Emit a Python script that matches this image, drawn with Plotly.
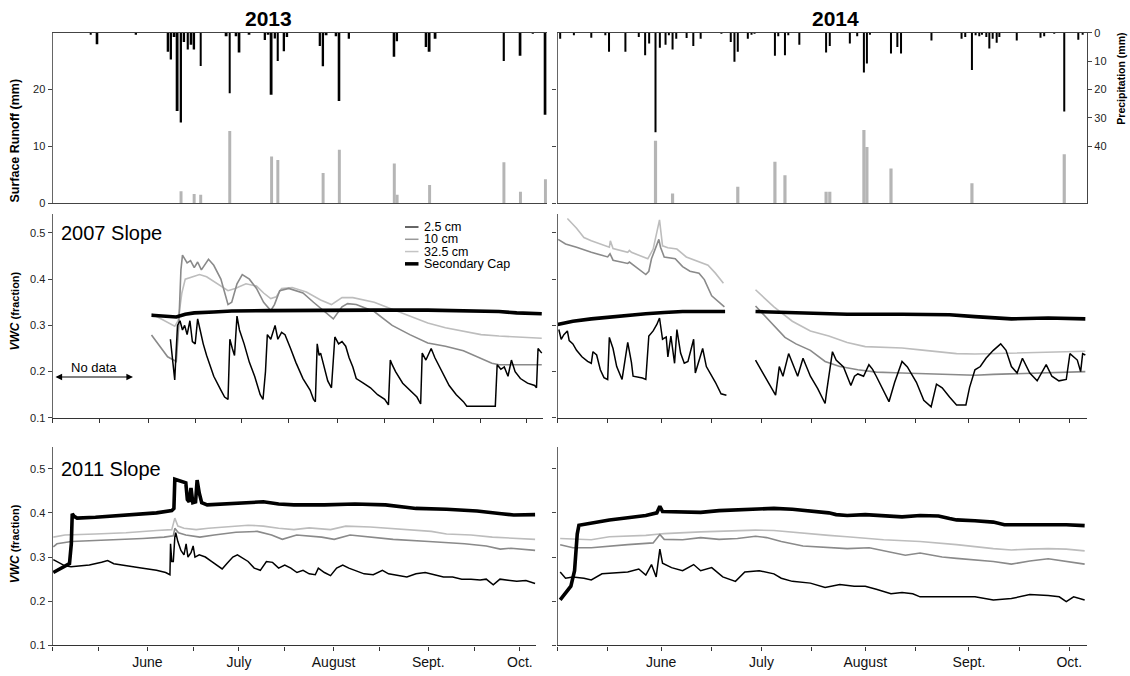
import plotly.graph_objects as go

W, H = 1130, 676

# ---------------- shared time axis (day of year, May 1 = 121) ----------------
TICK_DOY = [121, 136, 152, 167, 182, 197, 213, 228, 244, 259, 274]
TICK_TEXT = ["", "", "June", "", "July", "", "August", "", "Sept.", "", "Oct."]
X_RANGE = [121, 279.3]

# ---------------- precipitation (mm, daily) and surface runoff (mm) ----------------
precip13_doy = [133.2, 135.3, 147.7, 158.0, 158.9, 160.0, 161.0, 162.1, 163.1, 164.3,
                165.4, 166.3, 168.4, 176.7, 177.7, 179.8, 180.8, 184.0, 189.0, 190.1,
                191.1, 192.2, 193.1, 195.1, 196.1, 206.6, 207.6, 208.7, 211.8, 212.8,
                215.9, 230.4, 231.3, 240.6, 241.7, 243.6, 265.5, 270.8, 274.8, 278.8]
precip13_mm = [0.7, 4.0, 0.5, 6.7, 9.4, 1.5, 27.5, 31.6, 3.2, 5.9,
               4.2, 5.9, 11.7, 1.2, 21.3, 1.2, 6.9, 0.5, 2.5, 0.7,
               21.8, 2.0, 9.9, 6.5, 1.5, 4.6, 11.8, 0.9, 1.2, 24.0,
               2.1, 8.4, 3.0, 5.0, 6.7, 2.1, 9.9, 8.1, 0.3, 28.9]
runoff13_doy = [162.1, 166.3, 168.4, 177.7, 191.1, 193.1, 207.6, 212.8, 230.4, 231.3,
                241.7, 265.5, 270.8, 278.8]
runoff13_mm = [2.1, 1.6, 1.5, 12.7, 8.2, 7.6, 5.3, 9.4, 7.0, 1.5, 3.2, 7.2, 2.0, 4.2]

precip14_doy = [121.8, 125.9, 131.1, 135.3, 136.4, 141.3, 145.3, 147.2, 148.4, 150.3,
                151.6, 153.3, 154.3, 155.4, 156.5, 159.6, 161.6, 163.8, 170.0, 172.8,
                173.9, 174.9, 177.9, 179.0, 179.9, 186.0, 187.0, 189.0, 190.0, 193.3,
                201.3, 202.4, 208.4, 210.6, 212.6, 213.5, 214.4, 220.7, 222.6, 223.7,
                232.8, 241.8, 242.9, 244.9, 246.0, 247.1, 247.9, 249.2, 250.1, 251.1,
                252.3, 253.1, 258.3, 265.4, 266.5, 269.5, 272.5, 276.7, 278.0]
precip14_mm = [2.1, 0.9, 1.7, 0.9, 6.7, 6.7, 1.5, 7.9, 3.8, 35.0,
               5.3, 4.2, 0.9, 5.9, 2.1, 1.8, 4.6, 2.1, 0.3, 3.2,
               10.2, 6.7, 2.1, 0.5, 0.3, 8.1, 1.2, 7.9, 0.9, 4.2,
               6.9, 4.6, 3.8, 1.2, 14.0, 10.8, 0.5, 7.3, 5.0, 7.3,
               2.7, 2.1, 1.5, 13.1, 0.9, 1.2, 0.7, 1.5, 5.5, 2.1,
               3.5, 1.5, 2.7, 1.7, 1.2, 0.3, 27.7, 2.4, 0.7]
runoff14_doy = [150.3, 155.4, 174.9, 186.0, 189.0, 201.3, 202.4, 212.6, 213.5, 220.7,
                244.9, 272.5]
runoff14_mm = [11.0, 1.7, 2.9, 7.3, 4.9, 2.0, 2.0, 12.9, 9.9, 6.1, 3.5, 8.6]

# ---------------- 2007 slope VWC, 2013 ----------------
s07_13_d25_doy = [159.0, 159.7, 160.4, 160.9, 161.3, 162.1, 162.9, 163.6, 164.4, 165.3,
                  166.1, 167.0, 167.8, 168.6, 169.6, 170.7, 173.0, 175.3, 176.5, 177.6,
                  178.2, 179.0, 179.7, 180.5, 181.3, 182.8, 184.5, 186.2, 188.0, 188.9,
                  189.7, 190.3, 191.4, 192.8, 193.7, 194.9, 196.0, 197.8, 199.5, 201.8,
                  204.1, 205.2, 205.8, 206.4, 207.0, 207.5, 208.7, 209.8, 211.0, 212.1,
                  213.3, 214.4, 215.6, 216.7, 217.9, 219.0, 221.3, 223.6, 225.9, 228.2,
                  229.4, 230.0, 230.6, 231.7, 234.0, 236.3, 238.6, 239.8, 240.3, 241.5,
                  243.2, 244.4, 246.7, 249.0, 251.3, 253.6, 254.7, 263.9, 264.5, 265.7,
                  266.8, 268.0, 269.1, 270.3, 272.0, 274.3, 276.6, 277.2, 277.7, 278.9]
s07_13_d25 = [0.270, 0.220, 0.182, 0.250, 0.300, 0.310, 0.290, 0.300, 0.280, 0.310,
              0.265, 0.260, 0.314, 0.290, 0.260, 0.235, 0.190, 0.160, 0.145, 0.140,
              0.270, 0.250, 0.235, 0.320, 0.290, 0.260, 0.220, 0.190, 0.150, 0.140,
              0.200, 0.280, 0.270, 0.300, 0.270, 0.285, 0.280, 0.250, 0.220, 0.185,
              0.160, 0.140, 0.135, 0.260, 0.235, 0.240, 0.210, 0.180, 0.165, 0.275,
              0.260, 0.265, 0.255, 0.230, 0.210, 0.185, 0.175, 0.165, 0.150, 0.140,
              0.128, 0.225, 0.215, 0.200, 0.175, 0.160, 0.145, 0.130, 0.240, 0.225,
              0.250, 0.230, 0.200, 0.170, 0.150, 0.135, 0.125, 0.125, 0.215, 0.205,
              0.210, 0.190, 0.225, 0.200, 0.185, 0.175, 0.170, 0.165, 0.250, 0.240]
s07_13_d10_doy = [152.9, 155.2, 158.1, 160.9, 161.7, 162.4, 162.9, 164.4, 165.5, 166.7,
                  167.8, 169.0, 171.3, 173.0, 175.3, 177.6, 178.8, 180.5, 182.2, 184.5,
                  186.8, 189.1, 191.4, 192.6, 194.3, 197.2, 201.8, 205.2, 208.7, 211.6,
                  214.4, 216.2, 219.0, 224.8, 230.6, 236.3, 242.1, 247.8, 253.6, 258.2,
                  262.8, 265.1, 278.9]
s07_13_d10 = [0.279, 0.258, 0.232, 0.222, 0.300, 0.420, 0.452, 0.435, 0.440, 0.425,
              0.437, 0.420, 0.443, 0.430, 0.400, 0.345, 0.350, 0.390, 0.410, 0.400,
              0.380, 0.350, 0.332, 0.345, 0.375, 0.380, 0.370, 0.350, 0.330, 0.314,
              0.340, 0.347, 0.345, 0.330, 0.300, 0.280, 0.262, 0.255, 0.245, 0.232,
              0.218, 0.215, 0.215]
s07_13_d325_doy = [152.9, 156.9, 160.4, 161.5, 162.7, 163.8, 166.1, 168.4, 170.7, 173.0,
                   175.3, 177.6, 179.9, 183.4, 186.8, 189.1, 191.4, 193.2, 194.9, 198.3,
                   202.9, 207.5, 211.0, 214.4, 217.9, 224.8, 230.6, 236.3, 242.1, 247.8,
                   253.6, 259.3, 265.1, 272.0, 278.9]
s07_13_d325 = [0.325, 0.310, 0.298, 0.310, 0.370, 0.400, 0.405, 0.410, 0.405, 0.395,
               0.385, 0.375, 0.380, 0.390, 0.385, 0.370, 0.358, 0.362, 0.380, 0.382,
               0.372, 0.355, 0.345, 0.360, 0.360, 0.350, 0.335, 0.320, 0.305, 0.295,
               0.287, 0.280, 0.277, 0.275, 0.272]
s07_13_cap_doy = [152.9, 156.9, 160.9, 163.8, 166.7, 173.0, 178.8, 190.3, 207.5, 224.8,
                  242.1, 253.6, 265.1, 270.8, 278.9]
s07_13_cap = [0.322, 0.320, 0.318, 0.324, 0.327, 0.329, 0.331, 0.332, 0.333, 0.333,
              0.333, 0.332, 0.330, 0.327, 0.325]

# ---------------- 2007 slope VWC, 2014 (None = logger gap) ----------------
s07_14_d25_doy = [121.4, 122.1, 122.9, 123.95, 124.5, 125.6, 126.7, 128.3, 130.0, 131.1,
                  131.6, 132.7, 133.8, 134.9, 136.0, 136.5, 137.6, 138.7, 140.3, 142.0,
                  143.1, 143.6, 146.4, 147.4, 148.3, 149.6, 150.7, 151.5, 152.4, 153.5,
                  154.0, 154.9, 156.0, 156.7, 157.8, 158.9, 160.0, 161.7, 162.2, 163.3,
                  164.4, 165.5, 166.6, 168.2, 169.9, 171.5, 175.0,
                  180.2, 182.4, 184.6, 186.2, 187.3, 188.4, 190.1, 191.7, 192.8, 194.4,
                  196.6, 198.8, 201.0, 201.5, 203.2, 204.3, 206.5, 208.7, 209.8, 210.8,
                  212.5, 214.1, 215.2, 216.3, 218.5, 220.1, 221.8, 224.0, 225.6, 228.3,
                  230.5, 232.7, 234.3, 236.0, 238.2, 240.3, 243.1, 244.2, 245.8, 247.4,
                  249.1, 251.3, 253.5, 255.1, 256.7, 258.4, 260.0, 262.2, 264.4, 267.1,
                  268.8, 270.9, 273.1, 274.2, 276.4, 277.4, 278.0, 278.8]
s07_14_d25 = [0.291, 0.270, 0.280, 0.288, 0.267, 0.260, 0.246, 0.232, 0.222, 0.218,
              0.243, 0.236, 0.204, 0.187, 0.183, 0.274, 0.250, 0.211, 0.183, 0.263,
              0.220, 0.190, 0.186, 0.183, 0.277, 0.288, 0.302, 0.316, 0.270, 0.275,
              0.232, 0.277, 0.218, 0.291, 0.240, 0.218, 0.222, 0.270, 0.197, 0.222,
              0.250, 0.211, 0.197, 0.177, 0.152, 0.149, None,
              0.225, 0.197, 0.170, 0.149, 0.211, 0.190, 0.239, 0.211, 0.190, 0.229,
              0.190, 0.163, 0.131, 0.159, 0.243, 0.225, 0.210, 0.170, 0.190, 0.195,
              0.190, 0.215, 0.205, 0.190, 0.159, 0.135, 0.177, 0.222, 0.210, 0.177,
              0.138, 0.124, 0.173, 0.165, 0.145, 0.128, 0.128, 0.166, 0.204, 0.211,
              0.229, 0.246, 0.260, 0.246, 0.211, 0.197, 0.229, 0.197, 0.180, 0.215,
              0.190, 0.180, 0.183, 0.239, 0.225, 0.200, 0.239, 0.236]
s07_14_d10_doy = [121.2, 123.4, 126.7, 131.1, 136.0, 136.7, 137.6, 142.0, 142.5, 147.4,
                  148.3, 149.1, 151.3, 151.8, 152.9, 156.2, 158.4, 160.6, 163.3, 164.9,
                  167.1, 170.9, 175.0,
                  180.2, 183.5, 185.7, 189.0, 192.3, 196.6, 201.0, 205.4, 210.8, 216.3,
                  224.0, 234.9, 240.3, 245.8, 251.3, 262.2, 273.1, 278.8]
s07_14_d10 = [0.486, 0.476, 0.469, 0.458, 0.448, 0.455, 0.441, 0.434, 0.437, 0.410,
              0.417, 0.444, 0.486, 0.469, 0.448, 0.444, 0.427, 0.417, 0.413, 0.399,
              0.364, 0.340, None,
              0.342, 0.316, 0.298, 0.274, 0.260, 0.246, 0.222, 0.211, 0.204, 0.199,
              0.197, 0.195, 0.193, 0.192, 0.194, 0.197, 0.200, 0.200]
s07_14_d325_doy = [123.95, 126.7, 128.9, 131.1, 136.5, 136.8, 137.6, 142.0, 142.5, 143.1,
                   148.0, 149.6, 151.5, 152.4, 154.0, 156.7, 159.5, 163.8, 166.0, 168.2,
                   170.6, 175.0,
                   180.2, 185.7, 191.2, 196.6, 202.1, 207.6, 213.0, 218.5, 224.0, 229.4,
                   234.9, 240.3, 245.8, 251.3, 262.2, 273.1, 278.8]
s07_14_d325 = [0.531, 0.510, 0.490, 0.483, 0.469, 0.483, 0.466, 0.458, 0.462, 0.458,
               0.444, 0.465, 0.528, 0.472, 0.468, 0.465, 0.448, 0.437, 0.430, 0.413,
               0.391, None,
               0.377, 0.340, 0.309, 0.288, 0.277, 0.263, 0.254, 0.253, 0.251, 0.247,
               0.243, 0.239, 0.238, 0.239, 0.241, 0.243, 0.244]
s07_14_cap_doy = [121.0, 125.6, 131.1, 136.5, 142.0, 147.4, 152.9, 158.4, 171.1, 175.0,
                  180.2, 191.2, 207.6, 224.0, 238.2, 245.8, 256.7, 267.7, 278.8]
s07_14_cap = [0.302, 0.309, 0.314, 0.318, 0.321, 0.325, 0.328, 0.330, 0.330, None,
              0.330, 0.327, 0.324, 0.324, 0.323, 0.319, 0.314, 0.316, 0.314]

# ---------------- 2011 slope VWC, 2013 ----------------
s11_13_d25_doy = [121.2, 123.0, 125.0, 127.0, 130.0, 133.0, 137.0, 139.0, 141.0, 145.0,
                  150.0, 155.0, 158.0, 159.4, 159.6, 160.0, 160.5, 161.0, 161.3, 162.0,
                  163.0, 164.0, 164.7, 165.3, 166.3, 167.0, 167.6, 169.0, 171.0, 173.0,
                  175.0, 176.5, 178.0, 180.0, 181.5, 183.0, 185.0, 187.0, 189.0, 191.0,
                  193.0, 195.0, 197.0, 199.0, 201.0, 203.0, 205.0, 207.0, 208.0, 210.0,
                  212.0, 214.0, 216.0, 218.0, 220.0, 223.0, 226.0, 229.0, 231.0, 234.0,
                  237.0, 240.0, 243.0, 246.0, 249.0, 252.0, 255.0, 258.0, 261.0, 263.0,
                  265.3, 267.5, 270.0, 273.0, 276.0, 279.0]
s11_13_d25 = [0.294, 0.288, 0.280, 0.278, 0.280, 0.282, 0.288, 0.292, 0.285, 0.280,
              0.275, 0.270, 0.265, 0.260, 0.330, 0.290, 0.290, 0.345, 0.355, 0.335,
              0.315, 0.305, 0.330, 0.300, 0.310, 0.325, 0.300, 0.305, 0.300, 0.290,
              0.280, 0.273, 0.285, 0.300, 0.305, 0.298, 0.290, 0.275, 0.270, 0.290,
              0.288, 0.275, 0.282, 0.275, 0.265, 0.270, 0.262, 0.260, 0.275, 0.265,
              0.258, 0.275, 0.282, 0.275, 0.270, 0.262, 0.260, 0.270, 0.262, 0.258,
              0.255, 0.262, 0.265, 0.260, 0.255, 0.255, 0.250, 0.250, 0.248, 0.250,
              0.237, 0.250, 0.247, 0.245, 0.247, 0.240]
s11_13_d10_doy = [121.2, 122.4, 127.1, 138.8, 150.5, 157.5, 160.5, 161.0, 162.2, 164.6,
                  169.2, 173.9, 181.0, 188.0, 192.7, 196.2, 200.9, 209.1, 213.2, 218.4,
                  226.6, 232.5, 244.2, 255.9, 263.0, 267.6, 271.1, 279.0]
s11_13_d10 = [0.323, 0.330, 0.335, 0.338, 0.342, 0.345, 0.348, 0.365, 0.355, 0.350,
              0.345, 0.350, 0.356, 0.358, 0.350, 0.340, 0.350, 0.345, 0.340, 0.350,
              0.345, 0.340, 0.335, 0.330, 0.325, 0.318, 0.320, 0.315]
s11_13_d325_doy = [121.2, 125.0, 135.0, 145.0, 155.0, 160.0, 161.0, 162.0, 164.0, 168.0,
                   172.0, 178.0, 185.0, 190.0, 195.0, 200.0, 205.0, 212.0, 217.0, 225.0,
                   232.0, 240.0, 245.0, 250.0, 258.0, 265.0, 272.0, 279.0]
s11_13_d325 = [0.345, 0.350, 0.352, 0.355, 0.360, 0.362, 0.388, 0.370, 0.365, 0.362,
               0.365, 0.368, 0.372, 0.370, 0.365, 0.362, 0.366, 0.362, 0.370, 0.368,
               0.365, 0.360, 0.358, 0.352, 0.350, 0.345, 0.342, 0.340]
s11_13_cap_doy = [121.2, 126.5, 127.1, 127.4, 128.0, 129.0, 135.0, 145.0, 155.0, 160.0,
                  160.7, 161.0, 164.6, 165.1, 165.7, 166.3, 166.9, 167.8, 168.3, 169.0,
                  169.8, 171.6, 177.0, 185.0, 190.0, 195.0, 200.0, 210.0, 220.0, 230.0,
                  240.0, 250.0, 260.0, 268.0, 272.0, 279.0]
s11_13_cap = [0.265, 0.285, 0.330, 0.398, 0.392, 0.388, 0.390, 0.395, 0.400, 0.405,
              0.410, 0.476, 0.468, 0.430, 0.425, 0.456, 0.423, 0.425, 0.474, 0.445,
              0.423, 0.418, 0.420, 0.423, 0.425, 0.420, 0.418, 0.418, 0.420, 0.418,
              0.410, 0.408, 0.404, 0.398, 0.395, 0.396]

# ---------------- 2011 slope VWC, 2014 ----------------
s11_14_d25_doy = [121.8, 123.4, 125.6, 128.9, 131.1, 134.3, 142.0, 145.3, 147.4, 149.1,
                  150.5, 151.6, 152.4, 155.1, 158.4, 161.7, 163.8, 167.1, 170.4, 174.2,
                  177.0, 181.3, 185.7, 187.9, 191.2, 196.6, 201.0, 205.4, 209.7, 213.0,
                  216.3, 220.7, 224.0, 227.2, 229.4, 234.9, 240.3, 245.8, 251.3, 256.7,
                  262.2, 267.7, 271.0, 273.1, 275.3, 278.6]
s11_14_d25 = [0.266, 0.252, 0.255, 0.252, 0.248, 0.262, 0.266, 0.273, 0.259, 0.283,
              0.255, 0.318, 0.286, 0.276, 0.269, 0.283, 0.269, 0.276, 0.255, 0.245,
              0.266, 0.269, 0.262, 0.252, 0.245, 0.241, 0.231, 0.238, 0.234, 0.234,
              0.227, 0.217, 0.220, 0.217, 0.210, 0.210, 0.210, 0.210, 0.203, 0.206,
              0.215, 0.213, 0.210, 0.199, 0.210, 0.203]
s11_14_d10_doy = [121.8, 125.6, 131.1, 136.5, 142.0, 149.6, 151.6, 152.9, 158.4, 163.8,
                  169.3, 174.8, 180.2, 183.5, 187.9, 194.4, 202.1, 207.6, 214.2, 218.5,
                  225.0, 229.4, 236.0, 240.3, 245.8, 251.3, 256.7, 262.2, 267.7, 273.1,
                  278.6]
s11_14_d10 = [0.328, 0.321, 0.321, 0.325, 0.328, 0.332, 0.351, 0.340, 0.339, 0.344,
              0.340, 0.342, 0.347, 0.344, 0.335, 0.325, 0.321, 0.319, 0.321, 0.314,
              0.304, 0.309, 0.300, 0.297, 0.293, 0.290, 0.284, 0.291, 0.296, 0.290,
              0.284]
s11_14_d325_doy = [121.8, 131.1, 136.5, 147.4, 151.6, 152.9, 163.8, 174.8, 180.2, 185.7,
                   191.2, 196.6, 202.1, 207.6, 213.0, 218.5, 229.4, 240.3, 251.3, 256.7,
                   262.2, 267.7, 273.1, 278.6]
s11_14_d325 = [0.342, 0.339, 0.346, 0.349, 0.352, 0.353, 0.357, 0.359, 0.361, 0.360,
               0.356, 0.353, 0.349, 0.346, 0.342, 0.339, 0.335, 0.328, 0.319, 0.316,
               0.318, 0.319, 0.318, 0.314]
s11_14_cap_doy = [121.8, 123.4, 125.0, 126.1, 126.9, 127.4, 131.1, 136.5, 142.0, 147.4,
                  150.7, 151.6, 152.4, 158.4, 163.8, 169.3, 174.8, 180.2, 185.7, 191.2,
                  196.6, 202.1, 204.3, 207.6, 213.0, 218.5, 224.0, 229.4, 234.9, 238.2,
                  240.3, 245.8, 251.3, 254.6, 262.2, 267.7, 273.1, 278.6]
s11_14_cap = [0.203, 0.217, 0.234, 0.269, 0.352, 0.372, 0.377, 0.384, 0.389, 0.394,
              0.400, 0.415, 0.403, 0.401, 0.401, 0.405, 0.407, 0.410, 0.410, 0.408,
              0.405, 0.400, 0.396, 0.394, 0.396, 0.393, 0.391, 0.394, 0.393, 0.387,
              0.384, 0.382, 0.379, 0.373, 0.373, 0.375, 0.373, 0.371]

SERIES_NAMES = ["2.5 cm", "10 cm", "32.5 cm", "Secondary Cap"]
SERIES_COLORS = ["#000000", "#8a8a8a", "#bdbdbd", "#000000"]
SERIES_WIDTHS = [1.5, 1.6, 1.6, 3.6]

FONT = "Liberation Sans, Arial, Helvetica, sans-serif"


def fx(p):
    return p / W


def fy(p):
    return 1 - p / H


# panel geometry (pixel edges)
COL13_TOP = (52.7, 547.0)
COL13_MID = (52.7, 543.0)
COL13_BOT = (52.7, 536.0)
COL14 = (557.5, 1087.0)
ROW_TOP = (27.3, 200.7)
ROW_MID = (211.7, 419.3)
ROW_BOT = (449.4, 651.0)

fig = go.Figure()

# ---- top row: runoff bars (up) and precipitation bars (down) ----
fig.add_trace(go.Bar(x=runoff13_doy, y=runoff13_mm, width=0.95, marker=dict(color="#b5b5b5", line=dict(width=0)),
                     xaxis="x", yaxis="y", showlegend=False))
fig.add_trace(go.Bar(x=precip13_doy, y=precip13_mm, width=0.6, marker=dict(color="#000000", line=dict(width=0)),
                     xaxis="x", yaxis="y2", showlegend=False))
fig.add_trace(go.Bar(x=runoff14_doy, y=runoff14_mm, width=0.95, marker=dict(color="#b5b5b5", line=dict(width=0)),
                     xaxis="x2", yaxis="y3", showlegend=False))
fig.add_trace(go.Bar(x=precip14_doy, y=precip14_mm, width=0.6, marker=dict(color="#000000", line=dict(width=0)),
                     xaxis="x2", yaxis="y4", showlegend=False))


def add_vwc(xa, ya, groups):
    # deeper sensors first so the shallow and cap lines sit on top
    for i in [2, 1, 0, 3]:
        xs, ys = groups[i]
        fig.add_trace(go.Scatter(x=xs, y=ys, mode="lines", name=SERIES_NAMES[i],
                                 line=dict(color=SERIES_COLORS[i], width=SERIES_WIDTHS[i]),
                                 connectgaps=False, xaxis=xa, yaxis=ya, showlegend=False))


add_vwc("x3", "y5", [(s07_13_d25_doy, s07_13_d25), (s07_13_d10_doy, s07_13_d10),
                     (s07_13_d325_doy, s07_13_d325), (s07_13_cap_doy, s07_13_cap)])
add_vwc("x4", "y6", [(s07_14_d25_doy, s07_14_d25), (s07_14_d10_doy, s07_14_d10),
                     (s07_14_d325_doy, s07_14_d325), (s07_14_cap_doy, s07_14_cap)])
add_vwc("x5", "y7", [(s11_13_d25_doy, s11_13_d25), (s11_13_d10_doy, s11_13_d10),
                     (s11_13_d325_doy, s11_13_d325), (s11_13_cap_doy, s11_13_cap)])
add_vwc("x6", "y8", [(s11_14_d25_doy, s11_14_d25), (s11_14_d10_doy, s11_14_d10),
                     (s11_14_d325_doy, s11_14_d325), (s11_14_cap_doy, s11_14_cap)])

tickfont = dict(family=FONT, size=11, color="#222")
monthfont = dict(family=FONT, size=14, color="#111")


def xax(col, anchor, labels=False, ticks=True, mirror=False, linecolor="#333"):
    return dict(domain=[fx(col[0]), fx(col[1])], range=X_RANGE, anchor=anchor, showgrid=False,
                zeroline=False, showline=True, linecolor=linecolor, linewidth=1.2, mirror=mirror,
                tickmode="array", tickvals=TICK_DOY,
                ticktext=TICK_TEXT if labels else [""] * len(TICK_DOY),
                ticks="outside" if ticks else "", ticklen=4, tickcolor="#333", tickfont=monthfont,
                fixedrange=True)


def yax(row, rng, tickvals, anchor, labels=True, fmt=None):
    d = dict(domain=[fy(row[1]), fy(row[0])], range=rng, anchor=anchor, showgrid=False,
             zeroline=False, showline=True, linecolor="#666", linewidth=1.3, ticks="outside",
             ticklen=4, tickcolor="#444", tickmode="array", tickvals=tickvals,
             showticklabels=labels, tickfont=tickfont, fixedrange=True)
    if fmt:
        d["tickformat"] = fmt
    return d


VWC_TICKS = [0.1, 0.2, 0.3, 0.4, 0.5]

layout = dict(
    width=W, height=H, margin=dict(l=0, r=0, t=0, b=0),
    paper_bgcolor="white", plot_bgcolor="white", barmode="overlay", showlegend=False,
    font=dict(family=FONT, color="#111"),
    xaxis=xax(COL13_TOP, "y", ticks=False, mirror=True, linecolor="#444"),
    xaxis2=xax(COL14, "y3", ticks=False, mirror=True, linecolor="#444"),
    xaxis3=xax(COL13_MID, "y5"),
    xaxis4=xax(COL14, "y6"),
    xaxis5=xax(COL13_BOT, "y7", labels=True),
    xaxis6=xax(COL14, "y8", labels=True),
    yaxis=yax(ROW_TOP, [0, 30], [0, 10, 20], "x"),
    yaxis3=yax(ROW_TOP, [0, 30], [0, 10, 20], "x2", labels=False),
    yaxis5=yax(ROW_MID, [0.1, 0.541], VWC_TICKS, "x3", fmt=".1f"),
    yaxis6=yax(ROW_MID, [0.1, 0.541], VWC_TICKS, "x4", labels=False),
    yaxis7=yax(ROW_BOT, [0.1, 0.548], VWC_TICKS, "x5", fmt=".1f"),
    yaxis8=yax(ROW_BOT, [0.1, 0.548], VWC_TICKS, "x6", labels=False),
)
# precipitation axes hang from the top of each upper panel
layout["yaxis2"] = dict(overlaying="y", anchor="x", side="right", range=[60, 0], visible=False,
                        showgrid=False, zeroline=False, fixedrange=True)
layout["yaxis4"] = dict(overlaying="y3", anchor="x2", side="right", range=[60, 0], showgrid=False,
                        zeroline=False, showline=True, linecolor="#444", linewidth=1.2,
                        ticks="outside", ticklen=4, tickcolor="#444", tickmode="array",
                        tickvals=[0, 10, 20, 30, 40], tickfont=tickfont, fixedrange=True)
fig.update_layout(**layout)


def label(text, x, y, size, angle=0, xanchor="center"):
    return dict(text=text, x=fx(x), y=fy(y), xref="paper", yref="paper", xanchor=xanchor,
                yanchor="middle", showarrow=False, textangle=angle,
                font=dict(family=FONT, size=size, color="#000"))


ann = [
    label("<b>2013</b>", 268, 13, 21),
    label("<b>2014</b>", 835, 13, 21),
    label("<b>Surface Runoff (mm)</b>", 15, 137, 12.5, angle=-90),
    label("<b>Precipitation (mm)</b>", 1121, 74, 10.5, angle=-90),
    label("2007 Slope", 59, 231, 20, xanchor="left"),
    label("2011 Slope", 59, 471, 20, xanchor="left"),
    label("No data", 94, 368, 13),
]
vwc_title = "<b><i>VWC</i></b><b><span style='font-size:11px'> (fraction)</span></b>"
ann.append(label(vwc_title, 15, 311, 12, angle=-90))
ann.append(label(vwc_title, 15, 548, 12, angle=-90))
ann.append(dict(text="", x=fx(133), y=fy(377.7), xref="paper", yref="paper", ax=-79, ay=0,
                axref="pixel", ayref="pixel", showarrow=True, arrowhead=2, arrowside="end+start",
                arrowsize=1.1, arrowwidth=1.2, arrowcolor="#000", standoff=0, startstandoff=0))

# legend: short line samples with labels
leg_rows = [225.0, 237.5, 250.0, 262.5]
leg_cols = ["#333333", "#999999", "#c4c4c4", "#000000"]
leg_w = [1.5, 1.5, 1.5, 3.5]
shapes = []
for i, yy in enumerate(leg_rows):
    shapes.append(dict(type="line", xref="paper", yref="paper", x0=fx(405), x1=fx(418.5),
                       y0=fy(yy), y1=fy(yy), line=dict(color=leg_cols[i], width=leg_w[i])))
    ann.append(label(SERIES_NAMES[i], 421.5, yy, 12.5, xanchor="left"))

fig.update_layout(annotations=ann, shapes=shapes)
fig.write_html("out.html")
